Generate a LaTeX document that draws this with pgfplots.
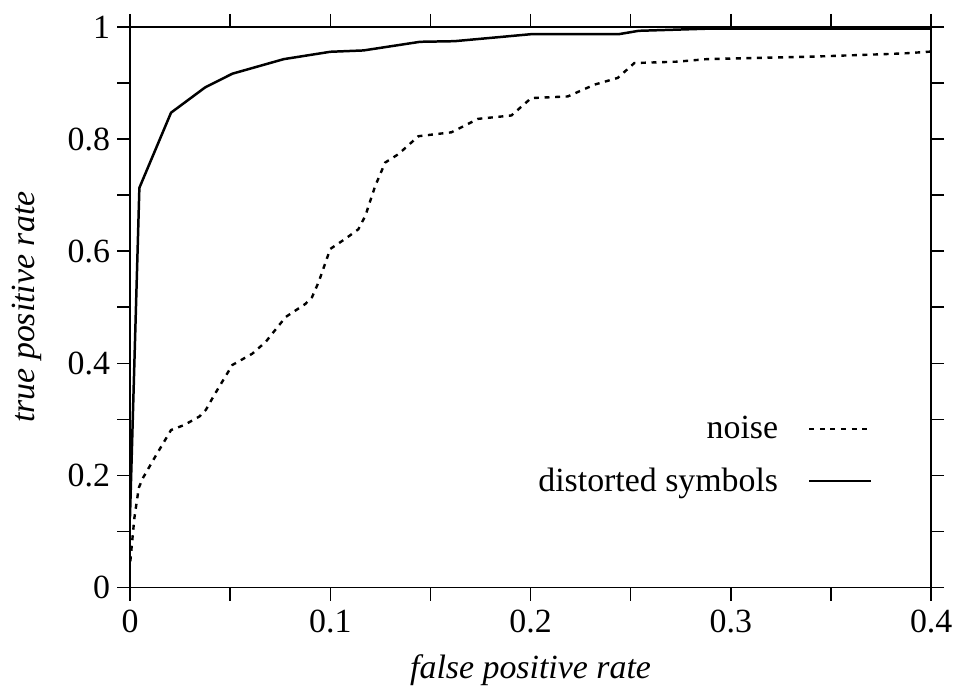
\documentclass[border=0pt]{standalone}
\usepackage{pgfplots}
\pgfplotsset{compat=1.18}
\usepackage{fontspec}
\setmainfont{Liberation Serif}
\newcommand{\ff}{\fontsize{17}{20}\selectfont}
\begin{document}
\begin{tikzpicture}
\begin{axis}[
  scale only axis,
  width=402.25pt, height=281.5pt,
  xmin=0, xmax=0.4, ymin=0, ymax=1,
  xtick={0,0.1,0.2,0.3,0.4},
  xticklabels={0,0.1,0.2,0.3,0.4},
  ytick={0,0.2,0.4,0.6,0.8,1},
  yticklabels={0,0.2,0.4,0.6,0.8,1},
  minor x tick num=1, minor y tick num=1,
  tick align=outside,
  major tick length=6.5pt, minor tick length=6.5pt,
  every tick/.style={black, line width=0.75pt},
  axis line style={line width=0.75pt},
  tick label style={font=\ff},
  /pgf/number format/assume math mode=true,
  xticklabel style={yshift=-1pt},
  yticklabel style={xshift=0pt},
  xlabel={\itshape false positive rate},
  ylabel={\itshape true positive rate},
  label style={font=\ff},
  xlabel style={yshift=-4pt},
  ylabel style={yshift=6pt},
  legend style={draw=none, fill=none, font=\ff, at={(0.927,0.313)}, anchor=north east,
    row sep=9pt, column sep=13pt, inner sep=0pt},
  legend cell align=right,
  legend plot pos=right,
  legend image code/.code={\draw[#1] (0pt,0pt) -- (31pt,0pt);},
  clip=true,
]
\addplot[black, line width=1.2pt, dash pattern=on 2.5pt off 2.8pt] coordinates {
(0.0002,0.047) (0.0008,0.071) (0.0022,0.124) (0.0044,0.178) (0.0064,0.195)
(0.0122,0.231) (0.0205,0.281) (0.0271,0.290) (0.0346,0.305) (0.0379,0.317)
(0.0420,0.343) (0.0511,0.397) (0.0610,0.417) (0.0677,0.438) (0.0777,0.4825)
(0.0876,0.506) (0.0909,0.518) (0.0942,0.545) (0.1000,0.604) (0.1075,0.622)
(0.1140,0.639) (0.1175,0.663) (0.1224,0.716) (0.1274,0.758) (0.1340,0.773)
(0.1440,0.805) (0.1605,0.812) (0.1738,0.836) (0.1904,0.842) (0.2003,0.873)
(0.2186,0.876) (0.2319,0.897) (0.2435,0.909) (0.2518,0.9355) (0.2733,0.938)
(0.2880,0.9425) (0.3412,0.947) (0.3777,0.9515) (0.3876,0.953) (0.4000,0.956)
};
\addlegendentry{noise}
\addplot[black, line width=1.25pt] coordinates {
(0,0.125) (0.0047,0.713) (0.0205,0.847) (0.0375,0.892) (0.0511,0.9165)
(0.0768,0.9425) (0.1000,0.9556) (0.1166,0.958) (0.1448,0.9734) (0.1620,0.9745)
(0.2003,0.987) (0.2440,0.987) (0.2540,0.993) (0.2900,0.997) (0.4000,0.997)
};
\addlegendentry{distorted symbols}
\end{axis}
\path[use as bounding box] (-65.25pt,-51.5pt) rectangle (414.25pt,295pt);
\end{tikzpicture}
\end{document}
